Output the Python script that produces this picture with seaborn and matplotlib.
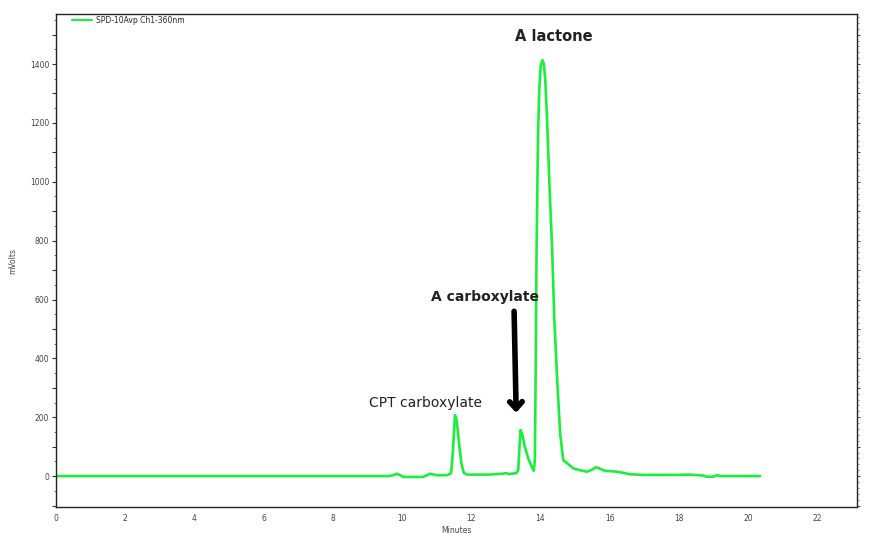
import matplotlib
matplotlib.use("Agg")
import matplotlib.pyplot as plt
from matplotlib.ticker import MultipleLocator, FuncFormatter
import seaborn as sns
import pandas as pd

# Chromatogram trace: retention time (minutes) and detector response (mVolts)
time_min = [0.0, 9.6, 9.75, 9.85, 9.95, 10.05, 10.6, 10.72, 10.8, 10.9, 11.0,
            11.3, 11.42, 11.47, 11.53, 11.58, 11.65, 11.72, 11.79, 11.9, 12.5,
            12.9, 13.0, 13.1, 13.3, 13.36, 13.4, 13.43, 13.48, 13.55, 13.65,
            13.75, 13.81, 13.84, 13.86, 13.89, 13.93, 13.97, 14.01, 14.06, 14.10,
            14.14, 14.19, 14.26, 14.34, 14.40, 14.49, 14.57, 14.66, 14.76, 14.94,
            15.14, 15.35, 15.5, 15.6, 15.7, 15.85, 16.0, 16.2, 16.35, 16.6, 17.0,
            18.0, 18.3, 18.7, 18.8, 19.0, 19.1, 19.2, 20.35]
signal_mv = [0, 0, 3, 8, 3, -3, -3, 3, 8, 6, 3,
             3, 10, 80, 207, 190, 110, 40, 10, 5, 5,
             8, 10, 7, 10, 20, 110, 156, 140, 100, 60,
             31, 18, 54, 316, 768, 1150, 1320, 1395, 1413, 1400,
             1350, 1220, 995, 768, 540, 316, 146, 54, 45, 27,
             20, 15, 22, 30, 26, 18, 17, 15, 12, 6, 4,
             4, 5, 2, -2, -2, 3, 0, 0]

series_name = "SPD-10Avp Ch1-360nm"
peak_labels = ["A lactone", "A carboxylate", "CPT carboxylate"]

trace = pd.DataFrame({"Minutes": time_min, "mVolts": signal_mv, "trace": series_name})

sns.set_style("white")
plt.rcParams["font.family"] = ["DejaVu Sans"]

fig = plt.figure(figsize=(8.95, 5.33), dpi=100)
ax = fig.add_axes([0.0626, 0.0488, 0.8949, 0.9249])

sns.lineplot(data=trace, x="Minutes", y="mVolts", hue="trace",
             palette=["#1cee3c"], linewidth=1.9, ax=ax, sort=False)

ax.set_xlim(0, 23.15)
ax.set_ylim(-105, 1570)

# Axis ticks: labelled majors with finer minor ticks
ax.xaxis.set_major_locator(MultipleLocator(1))
ax.xaxis.set_minor_locator(MultipleLocator(0.25))
ax.xaxis.set_major_formatter(FuncFormatter(lambda v, p: f"{int(v)}" if int(round(v)) % 2 == 0 else ""))
ax.yaxis.set_major_locator(MultipleLocator(100))
ax.yaxis.set_minor_locator(MultipleLocator(50))
ax.yaxis.set_major_formatter(FuncFormatter(lambda v, p: f"{int(v)}" if int(round(v)) % 200 == 0 else ""))
ax.tick_params(axis="both", which="major", direction="out", length=3, width=0.8,
               labelsize=5.5, labelcolor="#444444", color="#333333", pad=2)
ax.tick_params(axis="both", which="minor", direction="out", length=1.8, width=0.6,
               color="#555555")

for side in ["left", "bottom", "right", "top"]:
    ax.spines[side].set_visible(True)
    ax.spines[side].set_color("#222222")
    ax.spines[side].set_linewidth(1.0)

# Unlabelled tick scale on the right edge
ax2 = ax.twinx()
ax2.set_ylim(ax.get_ylim())
ax2.yaxis.set_major_locator(MultipleLocator(100))
ax2.yaxis.set_minor_locator(MultipleLocator(20))
ax2.tick_params(axis="y", which="major", direction="out", length=2.5, width=0.7,
                labelright=False, color="#444444")
ax2.tick_params(axis="y", which="minor", direction="out", length=1.5, width=0.6,
                color="#666666")
for side in ax2.spines.values():
    side.set_visible(False)

ax.set_xlabel("Minutes", fontsize=5.5, color="#444444", labelpad=2)
ax.set_ylabel("mVolts", fontsize=5.5, color="#444444", labelpad=9)

leg = ax.legend(loc="upper left", bbox_to_anchor=(0.014, 1.006), frameon=False,
                fontsize=5.5, handlelength=2.6, handletextpad=0.6, borderaxespad=0.2)
for line in leg.get_lines():
    line.set_linewidth(1.5)

# Peak annotations
ax.text(14.4, 1495, peak_labels[0], fontsize=10.5, fontweight="bold",
        color="#222222", ha="center", va="center")
ax.text(12.4, 610, peak_labels[1], fontsize=10, fontweight="bold",
        color="#222222", ha="center", va="center")
ax.text(10.67, 250, peak_labels[2], fontsize=10, color="#222222",
        ha="center", va="center")
ax.annotate("", xy=(13.3, 215), xytext=(13.24, 560),
            arrowprops=dict(arrowstyle="->,head_length=0.5,head_width=0.45",
                            lw=4, color="black", shrinkA=0, shrinkB=0))

fig.savefig("out.png", dpi=100, facecolor="white")
